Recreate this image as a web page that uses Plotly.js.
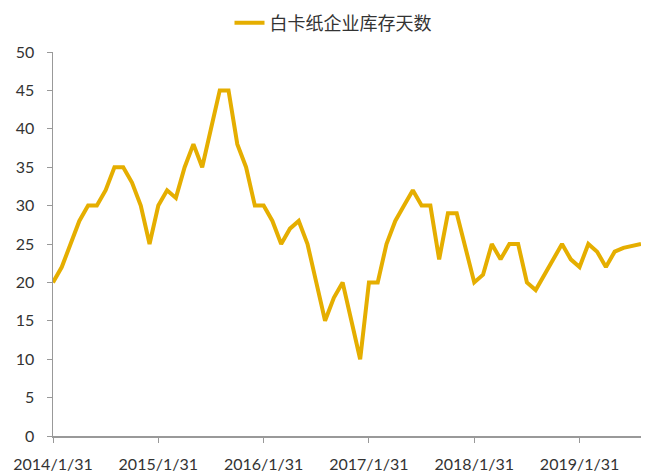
<!DOCTYPE html>
<html><head><meta charset="utf-8">
<script src="https://cdn.plot.ly/plotly-3.0.1.min.js"></script>
<style>html,body{margin:0;padding:0;background:#fff;}#chart{width:648px;height:476px;}</style>
</head><body><div id="chart"></div>
<script>
const seriesName = '白卡纸企业库存天数';
const startYear = 2014;
const values = [
  20, 22, 25, 28, 30, 30, 32, 35, 35, 33, 30, 25,
  30, 32, 31, 35, 38, 35, 40, 45, 45, 38, 35, 30,
  30, 28, 25, 27, 28, 25, 20, 15, 18, 20, 15, 10,
  20, 20, 25, 28, 30, 32, 30, 30, 23, 29, 29, 24.5,
  20, 21, 25, 23, 25, 25, 20, 19, 21, 23, 25, 23,
  22, 25, 24, 22, 24, 24.5, 24.8, 25
];
const tickLabels = ['2014/1/31','2015/1/31','2016/1/31','2017/1/31','2018/1/31','2019/1/31'];

function monthEnd(y, m) { return new Date(Date.UTC(y, m + 1, 0)); }
const dates = values.map((v, i) => {
  const y = startYear + Math.floor(i / 12), m = i % 12;
  const d = monthEnd(y, m);
  return d.getUTCFullYear() + '/' + (d.getUTCMonth() + 1) + '/' + d.getUTCDate();
});

const trace = {
  x: dates, y: values, type: 'scatter', mode: 'lines', name: seriesName,
  line: {color: '#E5AE00', width: 4}
};
const font = {family: 'Lato, "Liberation Sans", sans-serif', size: 16, color: '#333333'};
const layout = {
  width: 648, height: 476,
  margin: {l: 53, r: 7, t: 52, b: 40},
  paper_bgcolor: '#fff', plot_bgcolor: '#fff',
  font: font,
  showlegend: true,
  legend: {orientation: 'h', x: 0.5 + 9 / 648, xanchor: 'center', xref: 'container',
    y: 1 - 23 / 476, yanchor: 'middle', yref: 'container',
    font: {family: '"Noto Sans CJK SC", sans-serif', size: 18, color: '#333333'}},
  xaxis: {
    type: 'category', range: [0, values.length - 1],
    tickmode: 'array', tickvals: tickLabels, ticktext: tickLabels,
    ticks: 'outside', ticklen: 5, tickcolor: '#999', tickwidth: 1,
    showline: true, linecolor: '#999', linewidth: 1.5,
    showgrid: false, zeroline: false, tickfont: font, ticklabelstandoff: 8
  },
  yaxis: {
    range: [0, 50], dtick: 5, tick0: 0,
    ticks: 'outside', ticklen: 5, tickcolor: '#999', tickwidth: 1,
    showline: true, linecolor: '#999', linewidth: 1.5,
    showgrid: false, zeroline: false, tickfont: font, ticklabelstandoff: 9
  }
};
Plotly.newPlot('chart', [trace], layout, {staticPlot: true, displayModeBar: false});
</script></body></html>
